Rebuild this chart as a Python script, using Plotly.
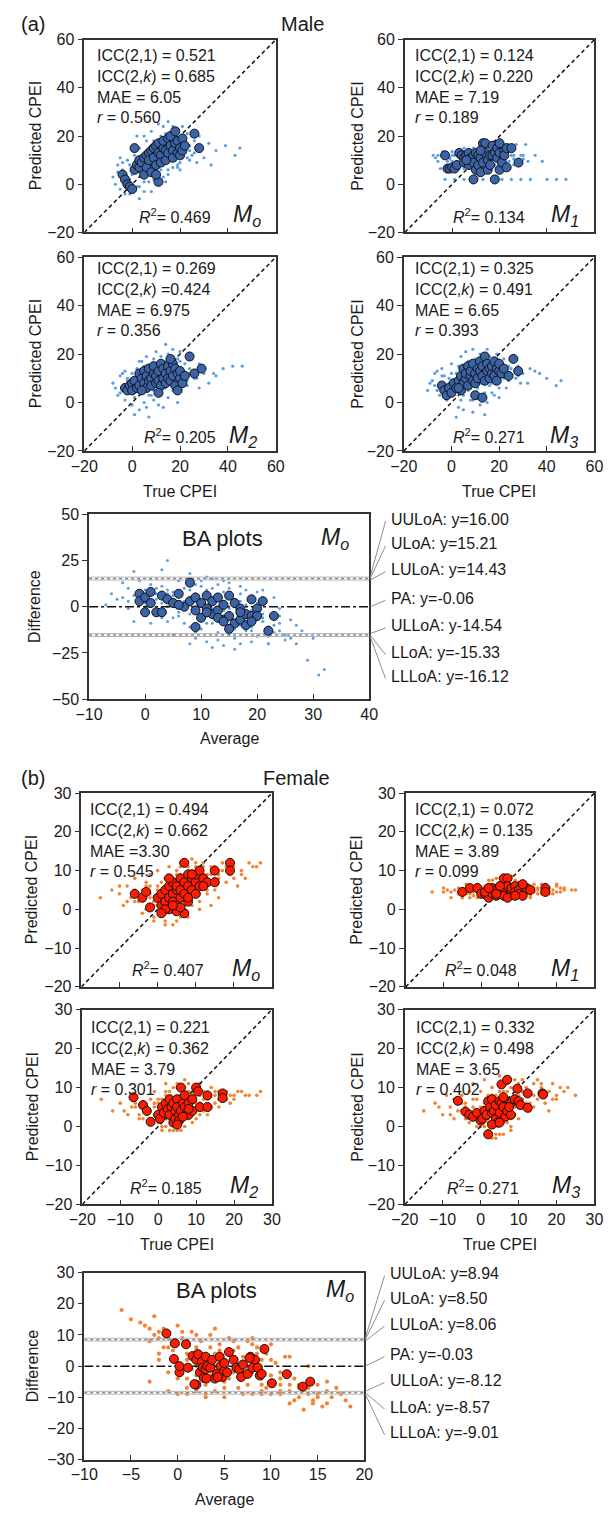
import plotly.graph_objects as go

W, H = 613, 1515
FONT = "Liberation Sans"
TXT = "#1a1a1a"

# ---------------- data ----------------
male_range = [-20, 60]
male_ticks = [-20, 0, 20, 40, 60]
female_range = [-20, 30]
female_ticks = [-20, -10, 0, 10, 20, 30]

male_ba_xrange = [-10, 40]
male_ba_xticks = [-10, 0, 10, 20, 30, 40]
male_ba_yrange = [-50, 50]
male_ba_yticks = [-50, -25, 0, 25, 50]
female_ba_xrange = [-10, 20]
female_ba_xticks = [-10, -5, 0, 5, 10, 15, 20]
female_ba_yrange = [-30, 30]
female_ba_yticks = [-30, -20, -10, 0, 10, 20, 30]

# Male Mo
male_mo_small_t = [-8, -6, -5, -4, -3, -2, -1, 0, 1, 2,
                   2, 3, 4, 4, 5, 5, 6, 6, 7, 7,
                   8, 8, 9, 9, 10, 10, 11, 11, 12, 12,
                   13, 13, 14, 14, 15, 15, 16, 16, 17, 17,
                   18, 18, 19, 19, 20, 20, 21, 22, 23, 24,
                   25, 26, 27, 28, 30, 32, 35, 39, 43, 45,
                   -7, -5, -3, -1, 1, 3, 5, 7, 9, 11,
                   13, 15, 17, 19, 21, 23, 25, 3, 8, 14,
                   0, 2, 6, 10, 12, 16, 20, 24, 28, 33,
                   -6, -4, -2, 0, 2, 4, 6, 8, 10, 12,
                   14, 16, 18, 20, 22, 24, 26, 5, 9, 13,
                   7, 11, 15, 19, 3, 1, -1, 17, 21, 9]
male_mo_small_p = [3, 8, -2, 6, 1, 10, -4, 4, 12, -1,
                   7, 15, 3, 9, 13, -3, 6, 18, 1, 11,
                   8, 22, 4, 14, 17, 0, 10, 25, 6, 19,
                   12, 3, 15, 21, 9, 26, 13, 18, 7, 16,
                   20, 11, 14, 23, 17, 9, 19, 13, 21, 16,
                   12, 18, 9, 15, 11, 17, 14, 16, 12, 15,
                   0, 11, -4, 8, -2, 5, 20, 14, 2, 7,
                   24, 4, 22, 8, 24, 11, 20, -6, -3, 1,
                   14, 20, 9, 12, 16, 11, 6, 10, 20, 8,
                   5, 9, 3, 7, 10, 12, 8, 16, 13, 20,
                   17, 15, 19, 12, 18, 14, 13, 1, 5, 10,
                   4, 3, 6, 7, -1, 9, 2, 24, 11, 18]
male_mo_big_t = [-4, -3, -2, -1, 0, 1, 1, 2, 3, 3,
                 4, 5, 5, 6, 6, 7, 7, 8, 8, 9,
                 9, 10, 10, 11, 11, 12, 12, 13, 13, 14,
                 14, 15, 15, 16, 16, 17, 17, 18, 18, 19,
                 19, 20, 20, 21, 21, 22, 26, 28, 11, 10]
male_mo_big_p = [4, 2, 0, -1, -2, 15, 6, 8, 7, 10,
                 9, 11, 4, 12, 7, 13, 10, 14, 5, 15,
                 11, 16, 8, 13, 17, 12, 9, 15, 18, 14,
                 10, 19, 13, 16, 20, 14, 11, 17, 22, 13,
                 18, 15, 12, 19, 14, 16, 21, 15, 1, 4]

# Male M1
male_m1_small_t = [-8, -6, -4, -2, 0, 2, 4, 6, 8, 10,
                   -5, -3, -1, 1, 3, 5, 7, 9, 11, 13,
                   0, 4, 8, 12, 16, 20, 24, 28, 32, 38,
                   -3, 1, 5, 9, 13, 17, 21, 25, 29, 33,
                   40, 44, 48, 15, 19, 23, 27, 31, 14, 18,
                   22, 26, 30, -7, -1, 3, 7, 11, 15, 19,
                   23, 2, 6, 10, 14, 18, 22, 26, -4, 0,
                   4, 8, 12, 16, 20, 24, 5, 9, 13, 17,
                   21, 12, 16, 20, 24, 6, 10, 14, 18, 22,
                   -6, -2, 2, 6, 10, 14, 18, 22, 26, 30,
                   1, 5, 9, 13, 17, 21, 25, 29, 35, -1]
male_m1_small_p = [12, 12, 12, 12, 12, 12, 12, 12, 12, 12,
                   6.5, 6.5, 6.5, 6.5, 6.5, 6.5, 6.5, 6.5, 6.5, 6.5,
                   9.5, 9.5, 9.5, 9.5, 9.5, 9.5, 9.5, 9.5, 9.5, 9.5,
                   2, 2, 2, 2, 2, 2, 2, 2, 2, 2,
                   2, 2, 2, 16.5, 16.5, 16.5, 16.5, 16.5, 12, 12,
                   12, 12, 12, 11, 11, 11, 11, 11, 11, 11,
                   11, 8, 8, 8, 8, 8, 8, 8, 13.5, 13.5,
                   13.5, 13.5, 13.5, 13.5, 13.5, 13.5, 15, 15, 15, 15,
                   15, 7, 7, 7, 7, 10.5, 10.5, 10.5, 10.5, 10.5,
                   9.5, 9.5, 13.5, 13.5, 11, 11, 8, 8, 10.5, 10.5,
                   12, 12, 12, 12, 12, 12, 12, 12, 12, 10.5]
male_m1_big_t = [-3, -2, -1, 0, 1, 2, 3, 4, 5, 5,
                 6, 7, 7, 8, 8, 9, 9, 10, 10, 11,
                 11, 12, 12, 13, 13, 14, 14, 15, 15, 16,
                 16, 17, 17, 18, 19, 19, 20, 20, 21, 22,
                 22, 23, 23, 25, 28, 9, 18, 6, 20, 12]
male_m1_big_p = [12, 6.5, 6.5, 7, 6.5, 8, 13, 12, 11, 9,
                 12, 13, 8, 10, 11, 12, 9, 13, 6, 8,
                 12, 11, 5, 17, 9, 17, 13, 10, 6, 12,
                 8, 16, 12, 13, 11, 15, 13, 6, 9, 14,
                 12, 15, 7, 15, 9, 2, 2, 10, 17, 14]

# Male M2
male_m2_small_t = [-8, -6, -5, -4, -3, -2, -1, 0, 1, 2,
                   2, 3, 4, 4, 5, 5, 6, 6, 7, 7,
                   8, 8, 9, 9, 10, 10, 11, 11, 12, 12,
                   13, 13, 14, 14, 15, 15, 16, 16, 17, 17,
                   18, 18, 19, 19, 20, 20, 21, 22, 23, 24,
                   25, 26, 27, 28, 30, 32, 35, 38, 42, 46,
                   1, 3, 5, 7, 9, 11, 13, 15, 17, 19,
                   -7, -3, 0, 4, 8, 12, 16, 20, 24, 28,
                   3, 7, 11, 15, 19, 23, 27, 0, 6, 14,
                   -5, -2, 1, 4, 7, 10, 13, 16, 19, 22,
                   2, 6, 9, 12, 15, 18, 21, 25, 29, 34,
                   -4, 0, 3, 8, 11, 14, 17, 20, 5, 9]
male_m2_small_p = [8, 3, 11, 6, 1, 9, 5, 12, 2, 7,
                   14, 4, 9, 17, 6, 12, -2, 15, 10, 3,
                   13, 7, 18, 5, 11, 21, 8, 15, 3, 12,
                   17, 9, 6, 14, 20, 11, 16, 8, 13, 22,
                   10, 15, 18, 7, 13, 17, 11, 16, 9, 14,
                   18, 10, 13, 16, 12, 8, 11, 14, 15, 15,
                   -5, -3, 0, -6, 1, 4, -2, 2, 5, 0,
                   6, 13, 10, 8, 16, 19, 10, 21, 12, 6,
                   10, 11, 12, 13, 9, 7, 10, 4, 19, 24,
                   4, 10, 6, 12, 8, 14, 6, 12, 15, 9,
                   11, 13, 16, 10, 8, 13, 14, 11, 13, 12,
                   12, -1, 17, 3, -1, 17, 19, 11, 15, 9]
male_m2_big_t = [-3, -2, -1, 0, 0, 1, 2, 3, 3, 4,
                 5, 5, 6, 6, 7, 7, 8, 8, 9, 9,
                 10, 10, 11, 11, 12, 12, 13, 13, 14, 14,
                 15, 15, 16, 16, 17, 17, 18, 18, 19, 19,
                 20, 20, 21, 22, 24, 26, 29, 11, 16, 4]
male_m2_big_p = [6, 5, 7, 8, 5, 9, 6, 7, 12, 10,
                 8, 13, 6, 11, 9, 14, 10, 7, 12, 15,
                 8, 11, 13, 9, 16, 7, 10, 14, 12, 8,
                 15, 10, 13, 9, 16, 11, 7, 14, 12, 5,
                 10, 13, 8, 11, 19, 12, 14, 4, 18, 5]

# Male M3
male_m3_small_t = [-10, -8, -7, -5, -4, -3, -2, -1, 0, 1,
                   2, 3, 4, 4, 5, 5, 6, 6, 7, 7,
                   8, 8, 9, 9, 10, 10, 11, 11, 12, 12,
                   13, 13, 14, 14, 15, 15, 16, 16, 17, 17,
                   18, 18, 19, 19, 20, 20, 21, 22, 23, 24,
                   25, 26, 27, 28, 30, 32, 35, 40, 44, 46,
                   -9, -6, -3, 0, 3, 6, 9, 12, 15, 18,
                   2, 5, 8, 11, 14, 17, 20, 23, 26, 29,
                   -6, -1, 3, 7, 11, 15, 19, 24, 28, 33,
                   -7, -4, -1, 2, 5, 8, 11, 14, 17, 20,
                   0, 3, 6, 9, 12, 15, 18, 21, 24, 27,
                   -2, 1, 4, 7, 10, 13, 16, 19, 22, 37]
male_m3_small_p = [5, 9, 12, 3, 14, 7, 1, 10, 16, 4,
                   12, -2, 8, 19, 3, 14, 10, 21, 5, 17,
                   9, 13, 22, 1, 11, 18, 6, 14, 20, 8,
                   12, 16, 4, 19, 10, 22, 14, 7, 17, 11,
                   15, 9, 20, 12, 6, 16, 11, 18, 13, 9,
                   14, 17, 10, 15, 12, 8, 13, 10, 7, 9,
                   8, 5, 11, 9, 6, 11, -4, -1, 0, 3,
                   -6, -3, 1, 2, -5, 4, 2, 6, 19, 8,
                   13, 6, 15, 12, 10, 13, 18, 15, 11, 14,
                   7, 11, 8, 9, 7, 6, 16, 14, 8, 14,
                   12, 10, 16, 14, 11, 17, 12, 15, 10, 12,
                   4, 7, 1, 9, 15, 8, 19, 17, 10, 12]
male_m3_big_t = [-4, -3, -2, -1, 0, 1, 2, 3, 4, 4,
                 5, 5, 6, 6, 7, 7, 8, 8, 9, 9,
                 10, 10, 11, 11, 12, 12, 13, 13, 14, 14,
                 15, 15, 16, 16, 17, 17, 18, 18, 19, 19,
                 20, 20, 21, 22, 24, 26, 28, 10, 13, 3]
male_m3_big_p = [7, 5, 3, 6, 4, 8, 6, 9, 11, 5,
                 14, 8, 10, 12, 7, 15, 11, 13, 9, 16,
                 12, 8, 14, 10, 17, 13, 11, 15, 9, 19,
                 13, 16, 10, 14, 12, 15, 11, 17, 9, 14,
                 13, 16, 12, 14, 11, 18, 13, 3, 2, 6]

# Male BA (average, difference)
male_ba_small_a = [-7, -6, -5, -4, -3, -3, -2, -2, -1, -1,
                   0, 0, 1, 1, 2, 2, 3, 3, 4, 4,
                   5, 5, 6, 6, 7, 7, 8, 8, 9, 9,
                   10, 10, 11, 11, 12, 12, 13, 13, 14, 14,
                   15, 15, 16, 16, 17, 17, 18, 18, 19, 19,
                   20, 20, 21, 21, 22, 22, 23, 23, 24, 24,
                   25, 26, 27, 28, 29, 30, 31, 32, 8, 12,
                   3, 6, 9, 11, 14, 17, 19, 22, 26, 5,
                   2, 4, 7, 10, 13, 16, 18, 21, 1, 8,
                   -2, 0, 3, 6, 9, 12, 15, 18, 21, 24,
                   11, 14, 17, 20, 23, 13, 16, 19, 10, 4,
                   -4, -1, 2, 5, 8, 11, 14, 17, 20, 23,
                   0, 3, 6, 9, 12, 15, 18, 21, 24, 27,
                   1, 4, 7, 10, 13, 16, 19, 22, 25, -3,
                   2, 5, 8, 11, 14, 17, 20, 9, 12, 15]
male_ba_small_d = [1, 7, 4, 13, -1, 10, 6, 19, 2, 14,
                   9, -4, 15, 3, 7, -3, 11, 20, 0, 25,
                   8, -6, 14, 2, -9, 10, 5, 18, -2, 12,
                   1, -12, 9, -5, 15, -1, 6, -14, 3, -8,
                   10, -3, -17, 4, -10, 7, -6, 1, -13, 5,
                   -2, -16, -8, 3, -11, -20, -4, -14, -1, -9,
                   -15, -7, -20, -13, -29, -17, -37, -34, -20, -22,
                   -6, -1, -17, -19, -21, -20, -19, -20, -17, -15,
                   4, -8, 3, -7, 12, 0, 9, -4, -9, -11,
                   -8, 0, 2, -5, 7, -9, 13, -13, 9, -5,
                   16, 14, 11, 8, 5, -18, -23, -2, 14, 9,
                   5, 8, 10, 6, 9, 4, -2, -3, -7, -10,
                   2, -1, -3, 0, -6, -1, -9, -6, -13, -10,
                   12, 7, 1, 11, -3, -12, -11, -16, -18, 3,
                   -2, 4, -4, -9, 8, 3, 2, -14, 10, -15]
male_ba_big_a = [-1, -1, 0, 0, 1, 1, 2, 3, 4, 5,
                 6, 7, 8, 8, 9, 9, 10, 10, 11, 11,
                 12, 12, 13, 13, 14, 14, 15, 15, 16, 16,
                 17, 17, 18, 18, 19, 19, 20, 20, 21, 22,
                 23, 9, 11, 13, 15, 3, 6, 14, 17, 19]
male_ba_big_d = [7, 3, 5, -3, 8, 2, -3, 6, 4, 2,
                 7, 0, 13, 3, -2, 5, -6, 2, 6, -1,
                 3, -4, 5, -2, 1, -7, 6, -5, 2, -9,
                 -1, -7, -4, -10, -5, 4, -1, -5, 3, -13,
                 -5, -11, -3, -6, -12, -3, 1, -8, -3, -8]

# Female Mo
female_mo_small_t = [-15, -12, -10, -9, -8, -7, -6, -5, -4, -3,
                     -3, -2, -2, -1, -1, 0, 0, 1, 1, 2,
                     2, 3, 3, 4, 4, 5, 5, 6, 6, 7,
                     7, 8, 8, 9, 9, 10, 10, 11, 11, 12,
                     12, 13, 13, 14, 14, 15, 15, 16, 17, 18,
                     19, 20, 21, 22, 23, 24, 25, 27, 16, 14,
                     -4, -1, 2, 5, 8, 11, 3, 6, 9, 4,
                     0, 2, 4, 6, 8, 10, 12, 14, 17, 20,
                     -6, -2, 1, 3, 5, 7, 9, 13, 15, 18,
                     -8, -5, -2, 1, 4, 7, 10, 13, 16, 19,
                     -10, -6, -3, 0, 3, 6, 9, 12, 15, 22,
                     2, 4, 6, 8, 1, 3, 5, 7, 9, 11,
                     -1, 0, 2, 4, 5, 6, 8, 10, 12, 26]
female_mo_small_p = [3, 5, 4, 1, 6, 3, 8, 2, 5, 7,
                     0, 4, 9, 2, -2, 6, 10, 1, 4, 8,
                     -3, 5, 11, 2, 7, -1, 9, 4, 12, 6,
                     1, 10, 3, 7, 13, 5, 11, 2, 8, 12,
                     6, 9, 4, 11, 7, 10, 5, 8, 12, 7,
                     9, 11, 6, 10, 8, 12, 11, 12, 3, 1,
                     -1, -3, -4, -3, -2, 0, 2, -2, 1, -4,
                     2, 3, 4, 5, 6, 7, 8, 9, 10, 8,
                     5, 6, 7, 8, 3, 3, 4, 5, 8, 11,
                     2, 4, 3, 2, 3, 5, 6, 7, 9, 9,
                     6, 2, 6, 5, 7, 9, 10, 9, 11, 9,
                     1, 0, 2, 4, 3, 4, 2, 1, 6, 4,
                     1, 1, 6, 5, 10, 11, 11, 12, 11, 11]
female_mo_big_t = [-6, -4, -3, -2, 0, 1, 1, 2, 2, 3,
                   3, 3, 4, 4, 4, 5, 5, 5, 6, 6,
                   6, 7, 7, 7, 8, 8, 8, 9, 9, 10,
                   10, 11, 11, 12, 13, 15, 15, 19, 19, 3,
                   7, 9, 5, 2, 6, 12, 8, 4, 1, 10]
female_mo_big_p = [4, 3, 4.5, 0.5, 3, 4, 1, 5, 2, 6,
                   3, 0, 7, 4, 2, 5, 1, 6, 3, 8,
                   5, -1, 4, 7, 6, 9, 2, 5, 8, 7,
                   9, 6, 10, 8, 7, 7, 10, 12, 10, 8,
                   12, 9, -0.5, 0, 0.5, 6, 3, 1, -1, 4]

# Female M1
female_m1_small_t = [-13, -10, -8, -6, -4, -2, 0, 2, 4, 6,
                     -8, -5, -3, -1, 1, 3, 5, 7, 9, 11,
                     -6, -3, 0, 3, 6, 9, 12, 15, 18, 21,
                     8, 10, 12, 14, 16, 18, 20, 22, 24, 25,
                     2, 3, 4, 5, 6, 7, 8, 9, 10, 11,
                     -4, -1, 2, 5, 8, 11, 14, 17, 20, 13,
                     0, 4, 8, 12, 16, 19, -2, 6, 10, 14,
                     1, 3, 5, 7, 9, 11, 13, 15, 17, 20,
                     -10, -7, -4, -1, 2, 5, 8, 11, 14, 17,
                     -6, -3, 0, 3, 6, 9, 12, 15, 18, 21,
                     -9, -2, 1, 4, 7, 10, 13, 16, 19, 22]
female_m1_small_p = [4.5, 4.5, 4.5, 4.5, 4.5, 4.5, 4.5, 4.5, 4.5, 4.5,
                     3, 3, 3, 3, 3, 3, 3, 3, 3, 3,
                     5.5, 5.5, 5.5, 5.5, 5.5, 5.5, 5.5, 5.5, 5.5, 5.5,
                     4.5, 4.5, 4.5, 4.5, 4.5, 4.5, 4.5, 5, 5, 5,
                     7.5, 7.5, 8, 8, 7.5, 8, 8.5, 7.5, 7, 7,
                     6.5, 6.5, 6.5, 6.5, 6.5, 6.5, 6.5, 6.5, 6.5, 3.5,
                     4, 4, 4, 4, 4, 4, 5, 5, 5, 5,
                     3.5, 3.5, 3.5, 3.5, 3.5, 3.5, 3, 4, 6, 6,
                     5.5, 5, 4, 5, 4.5, 4.5, 4, 5.5, 5.5, 4.5,
                     4, 4, 5.5, 5, 6, 6.5, 6, 5, 4, 4.5,
                     5, 3.5, 6, 3, 5, 3, 6, 6.5, 5, 5.5]
female_m1_big_t = [-5, -3, -1, 0, 1, 2, 2, 3, 3, 4,
                   4, 5, 5, 6, 6, 6, 7, 7, 8, 8,
                   9, 9, 10, 10, 11, 12, 13, 17, 17, 11,
                   7, 9, 4, 5, 1, 2]
female_m1_big_p = [4.5, 5.5, 5.5, 4, 4, 3, 5, 5.5, 4, 5,
                   3.5, 6, 4, 5, 8, 3.5, 8, 6, 4.5, 5.5,
                   6, 4.5, 5, 4, 3.5, 5.5, 5, 5.5, 4.5, 6.5,
                   3, 3.5, 4, 6, 4.5, 5.5]

# Female M2
female_m2_small_t = [-15, -12, -10, -8, -7, -6, -5, -4, -3, -2,
                     -2, -1, -1, 0, 0, 1, 1, 2, 2, 3,
                     3, 4, 4, 5, 5, 6, 6, 7, 7, 8,
                     8, 9, 9, 10, 10, 11, 11, 12, 12, 13,
                     14, 15, 15, 16, 17, 18, 19, 20, 22, 24,
                     26, 27, 1, 3, 5, 7, 9, 4, 6, 2,
                     -4, -1, 2, 5, 8, 11, 14, -6, 0, 3,
                     6, 9, 12, 16, 20, 23, 1, 4, 7, 10,
                     -9, -6, -3, 0, 3, 6, 9, 12, 15, 18,
                     -5, -2, 1, 4, 7, 10, 13, 16, 19, 21,
                     0, 2, 4, 6, 8, 3, 5, 7, 9, 11,
                     -1, 1, 3, 5, 7, 9, 2, 4, 6, 8]
female_m2_small_p = [7, 4, 6, 3, 5, 8, 2, 6, 4, 7,
                     1, 5, 9, 3, 7, 0, 4, 8, 11, 5,
                     2, 6, 10, -1, 4, 8, 1, 5, 12, 3,
                     7, 4, 9, 2, 6, 8, 11, 5, 9, 7,
                     10, 6, 9, 7, 8, 9, 6, 8, 9, 8,
                     8, 9, -1, -1, 0, 0, 1, -1, -1, 0,
                     2, 3, 9, 10, 11, 3, 5, 5, 5, 3,
                     2, 5, 4, 5, 7, 8, 2, 3, 9, 10,
                     4, 6, 5, 6, 6, 7, 6, 7, 8, 7,
                     3, 2, 5, 4, 3, 4, 3, 9, 8, 9,
                     1, 2, 1, 2, 2, 9, 11, 10, 8, 6,
                     6, 7, 4, 5, 6, 3, 4, 7, 5, 9]
female_m2_big_t = [-6.5, -4, -3, -2, 0, 0.5, 1, 1.5, 2, 2.5,
                   3, 3, 3.5, 4, 4, 4.5, 4.5, 5, 5, 5.5,
                   5.5, 6, 6, 6.5, 7, 7, 8, 8, 9, 9,
                   10, 10.5, 11, 13, 13, 17, 17, 5, 6.5, 8]
female_m2_big_p = [7.5, 5.5, 4, 1.2, 3, 2, 5, 3.5, 6, 4.5,
                   7, 3, 5, 6, 1, 4, 2, 7, 5, 3,
                   1.5, 10, 4, 6, 5, 8, 3, 6, 4, 7,
                   10, 9, 5, 8, 5, 8.5, 7.3, 0.5, 2.5, 4.5]

# Female M3
female_m3_small_t = [-15, -12, -10, -9, -8, -7, -6, -5, -4, -3,
                     -3, -2, -2, -1, -1, 0, 0, 1, 1, 2,
                     2, 3, 3, 4, 4, 5, 5, 6, 6, 7,
                     7, 8, 8, 9, 9, 10, 10, 11, 11, 12,
                     13, 13, 14, 15, 16, 17, 18, 19, 20, 22,
                     23, 25, 4, 6, 8, 3, 5, -1, 1, 7,
                     -6, -4, -2, 0, 2, 4, 6, 8, 10, 12,
                     14, 16, 18, 20, -8, -5, 2, 6, 10, 15,
                     -11, -7, -4, -1, 2, 5, 8, 11, 14, 17,
                     -5, -2, 1, 4, 7, 10, 13, 16, 19, 21,
                     0, 2, 4, 6, 8, 3, 5, 7, 9, 11,
                     -3, 1, 3, 5, 7, 9, 2, 4, 6, 8]
female_m3_small_p = [4, 6, 3, 8, 5, 2, 7, 4, 6, 9,
                     1, 5, 11, 3, 7, 0, 9, 4, 12, -1,
                     6, 3, 10, -2, 8, 5, 13, 1, 9, 4,
                     11, 6, -1, 8, 3, 10, 5, 7, 12, 6,
                     9, 4, 11, 7, 10, 6, 9, 11, 8, 9,
                     10, 8, -3, -2, 0, -3, -2, 0, 0, 1,
                     4, 2, 3, 5, 2, 6, 4, 3, 2, 10,
                     5, 8, 4, 7, 3, 6, 8, 11, 11, 12,
                     5, 7, 5, 2, 3, 4, 7, 9, 8, 9,
                     8, 7, 5, 3, 9, 8, 6, 11, 7, 10,
                     3, 1, 2, 3, 2, 8, 9, 7, 5, 9,
                     4, 6, 10, 11, 6, 12, 4, 6, 6, 10]
female_m3_big_t = [-6, -4, -3, -2, -1, 0, 0.5, 1, 1.5, 2,
                   2, 2.5, 3, 3, 3.5, 4, 4, 4.5, 5, 5,
                   5.5, 5.5, 6, 6, 6.5, 7, 7, 8, 8, 9,
                   9.7, 10, 10.5, 12.4, 12.4, 16.3, 16.5, 3, 5, 7.5]
female_m3_big_p = [6.6, 3.8, 3, 2.5, 3.5, 1.5, 2, 4, 3, -2,
                   6.5, 5, 3.5, 7, 4, 2, 5.5, 1, 6.5, 3.5,
                   10.8, 6, 5, 7.5, 2.5, 12, 4, 6, 3, 7,
                   9.7, 6.5, 5.5, 8.5, 4.8, 8.5, 8.2, 0.5, 1, 5]

# Female BA
female_ba_small_a = [-6, -4, -3.5, -3, -2.5, -2, -2, -1.5, -1, -1,
                     -0.5, 0, 0, 0.5, 1, 1, 1.5, 2, 2, 2.5,
                     3, 3, 3.5, 4, 4, 4.5, 5, 5, 5.5, 6,
                     6, 6.5, 7, 7, 7.5, 8, 8, 8.5, 9, 9,
                     9.5, 10, 10, 10.5, 11, 11.5, 12, 12, 12.5, 13,
                     13.5, 14, 14.5, 15, 15.5, 16, 16.5, 17, 18, 18.5,
                     -3, -1, 1, 3, 5, 7, 9, 11, 13, 15,
                     0, 2, 4, 6, 8, 10, 12, 14, 16, 3,
                     1, 3, 5, 7, 9, -2, 4, 6, 8, 11,
                     -5, -3, -2, -1, 0, 1, 2, 3, 4, 5,
                     6, 7, 8, 9, 10, 11, 12, 13, 14, 15,
                     0.5, 1.5, 2.5, 3.5, 4.5, 5.5, 6.5, 7.5, 8.5, 9.5,
                     1, 2, 3, 4, 5, 6, 7, 8, 9, 10,
                     -2.5, -1.5, 0.5, 2, 3.5, 11, 12.5, 14.5, 16, 17.5]
female_ba_small_d = [18, 14, 13, 8, 16, 11, 4, 12, -2, 9,
                     5, 13, -4, 9, 2, -7, 11, 6, -3, 8,
                     1, -6, 10, 4, -8, 7, 2, -5, 9, -2,
                     5, -7, 3, -4, 8, -1, -9, 6, 2, -6,
                     4, -3, -9, 1, -6, 3, -8, -12, -4, -10,
                     -14, -7, -11, -9, -13, -8, -10, -7, -11, -13,
                     -5, -8, -9, -10, -10, -9, -9, -8, -6, -6,
                     -9, -8, 12, 8, 9, 7, 3, 0, -5, 0,
                     -1, 3, -2, 1, -3, 2, 0, -1, 0, -2,
                     15, 12, 9, 6, 7, 4, 5, 2, 0, -3,
                     3, 0, -2, -4, -5, -4, -6, -7, -9, -10,
                     0, -1, 4, -3, 5, -4, 6, -6, 4, -7,
                     -4, 0, -9, 2, -7, 3, -2, 7, -8, 2,
                     10, 6, 11, 10, 6, -9, -11, -12, -12, -9]
female_ba_big_a = [-1.2, -0.3, -0.4, 0.9, 0.2, 0.2, 1.1, 1.6, 2, 2,
                   2.2, 2.4, 2.6, 2.7, 2.8, 3, 3, 3.2, 3.5, 3.7,
                   4, 4.2, 4.5, 4.6, 4.8, 5, 5, 5.3, 5.5, 6,
                   6.3, 6.6, 6.8, 7, 7.5, 7.8, 8, 8.3, 8.6, 8.8,
                   9, 9.3, 10.1, 11.7, 13.4, 14.2, 1.8, 7.7, 4.3, 3.1]
female_ba_big_d = [10.5, 7.3, 2.3, 7, -2, 0, -0.5, 3.2, -6, 2,
                   3.8, -2, 1.5, -0.5, -3.8, 3, -1, 0, -0.5, 2,
                   -4, -2.5, 3, 0, -3.5, -1.5, 1, -2, 4.5, 2,
                   -0.5, -1, -3.5, 0.5, -2.5, 3, -0.5, 2, -0.5, -3,
                   -2.5, 5.5, -5.5, -2.6, -6.6, -5, -5.8, 2.6, -3.5, -4]

# Statistics text
male_stats = [
    ("0.521", "0.685", "MAE = 6.05", "0.560", "0.469", "o"),
    ("0.124", "0.220", "MAE = 7.19", "0.189", "0.134", "1"),
    ("0.269", "0.424", "MAE = 6.975", "0.356", "0.205", "2"),
    ("0.325", "0.491", "MAE = 6.65", "0.393", "0.271", "3"),
]
female_stats = [
    ("0.494", "0.662", "MAE =3.30", "0.545", "0.407", "o"),
    ("0.072", "0.135", "MAE = 3.89", "0.099", "0.048", "1"),
    ("0.221", "0.362", "MAE = 3.79", "0.301", "0.185", "2"),
    ("0.332", "0.498", "MAE = 3.65", "0.402", "0.271", "3"),
]

male_loa_values = [16.00, 15.21, 14.43, -0.06, -14.54, -15.33, -16.12]
male_loa_labels = ["UULoA: y=16.00", "ULoA: y=15.21", "LULoA: y=14.43", "PA: y=-0.06",
                   "ULLoA: y-14.54", "LLoA: y=-15.33", "LLLoA: y=-16.12"]
female_loa_values = [8.94, 8.50, 8.06, -0.03, -8.12, -8.57, -9.01]
female_loa_labels = ["UULoA: y=8.94", "ULoA: y=8.50", "LULoA: y=8.06", "PA: y=-0.03",
                     "ULLoA: y=-8.12", "LLoA: y=-8.57", "LLLoA: y=-9.01"]

# ---------------- style / layout ----------------
MALE_SMALL = "#5B9FE3"
MALE_BIG = "#3A63A8"
FEMALE_SMALL = "#F28535"
FEMALE_BIG = "#FF1A00"


def px(x):
    return x / W


def py(y):
    return 1 - y / H


fig = go.Figure()
annotations = []
shapes = []


def axname(i):
    return ("x", "y") if i == 1 else (f"x{i}", f"y{i}")


def add_axes(i, box, xr, xt, yr, yt, show_xlabels):
    l, r, t, b = box
    common = dict(showline=True, linecolor="#333333", linewidth=1.5, mirror=True,
                  showgrid=False, zeroline=False, ticklen=5, tickwidth=1.3,
                  tickcolor="#333333", fixedrange=True,
                  tickfont=dict(family=FONT, size=16, color=TXT))
    xa, ya = axname(i)
    fig.update_layout(**{
        ("xaxis" if i == 1 else f"xaxis{i}"): dict(
            domain=[px(l), px(r)], range=xr, tickvals=xt, ticks="inside",
            anchor=ya, showticklabels=show_xlabels, **common),
        ("yaxis" if i == 1 else f"yaxis{i}"): dict(
            domain=[py(b), py(t)], range=yr, tickvals=yt, ticks="outside",
            anchor=xa, **common),
    })


def txt(x, y, text, size=16, xanchor="center", yanchor="middle", angle=0, align="center"):
    annotations.append(dict(x=px(x), y=py(y), xref="paper", yref="paper", text=text,
                            showarrow=False, xanchor=xanchor, yanchor=yanchor, align=align,
                            textangle=angle, font=dict(family=FONT, size=size, color=TXT)))


def add_points(i, xs, ys, small, color, size):
    xa, ya = axname(i)
    if small:
        marker = dict(size=size, color=color)
    else:
        marker = dict(size=size, color=color, line=dict(color="#111111", width=1))
    fig.add_trace(go.Scatter(x=xs, y=ys, mode="markers", xaxis=xa, yaxis=ya,
                             marker=marker, hoverinfo="skip"))


scatter_specs = [
    (1, (73, 272, 32, 227), male_range, male_ticks, male_mo_small_t, male_mo_small_p,
     male_mo_big_t, male_mo_big_p, (MALE_SMALL, MALE_BIG, 3.2), False, male_stats[0], " = ",
     (84, 37), (167, 210), (242, 210), 22),
    (2, (406, 603, 32, 227), male_range, male_ticks, male_m1_small_t, male_m1_small_p,
     male_m1_big_t, male_m1_big_p, (MALE_SMALL, MALE_BIG, 3.2), False, male_stats[1], " = ",
     (415, 37), (493, 210), (572, 210), 356),
    (3, (73, 272, 252, 448), male_range, male_ticks, male_m2_small_t, male_m2_small_p,
     male_m2_big_t, male_m2_big_p, (MALE_SMALL, MALE_BIG, 3.2), True, male_stats[2], " =",
     (84, 253), (172, 433), (238, 433), 22),
    (4, (405, 603, 252, 448), male_range, male_ticks, male_m3_small_t, male_m3_small_p,
     male_m3_big_t, male_m3_big_p, (MALE_SMALL, MALE_BIG, 3.2), True, male_stats[3], " = ",
     (415, 253), (494, 433), (571, 433), 356),
    (6, (70, 268, 794, 990), female_range, female_ticks, female_mo_small_t, female_mo_small_p,
     female_mo_big_t, female_mo_big_p, (FEMALE_SMALL, FEMALE_BIG, 3.6), False, female_stats[0],
     " = ", (77, 800), (160, 972), (241, 972), 19),
    (7, (407, 603, 794, 990), female_range, female_ticks, female_m1_small_t, female_m1_small_p,
     female_m1_big_t, female_m1_big_p, (FEMALE_SMALL, FEMALE_BIG, 3.6), False, female_stats[1],
     " = ", (415, 800), (485, 972), (572, 972), 356),
    (8, (71, 268, 1013, 1210), female_range, female_ticks, female_m2_small_t, female_m2_small_p,
     female_m2_big_t, female_m2_big_p, (FEMALE_SMALL, FEMALE_BIG, 3.6), True, female_stats[2],
     " = ", (78, 1020), (158, 1192), (239, 1192), 19),
    (9, (406, 603, 1013, 1210), female_range, female_ticks, female_m3_small_t, female_m3_small_p,
     female_m3_big_t, female_m3_big_p, (FEMALE_SMALL, FEMALE_BIG, 3.6), True, female_stats[3],
     " = ", (416, 1020), (487, 1192), (573, 1192), 356),
]

for (i, box, rng, ticks, st, sp, bt, bp, cols, xlab, stats, sep,
     tpos, r2pos, mpos, ytitle_x) in scatter_specs:
    add_axes(i, box, rng, ticks, rng, ticks, xlab)
    xa, ya = axname(i)
    add_points(i, st, sp, True, cols[0], cols[2])
    fig.add_trace(go.Scatter(x=rng, y=rng, mode="lines", xaxis=xa, yaxis=ya,
                             line=dict(color="#111111", width=1.5, dash="4px,3px"),
                             hoverinfo="skip"))
    add_points(i, bt, bp, False, cols[1], 9)
    icc1, icck, mae, r, r2, sub = stats
    block = (f"ICC(2,1) = {icc1}<br>ICC(2,<i>k</i>){sep}{icck}<br>{mae}<br>"
             f"<i>r</i> = {r}")
    txt(tpos[0], tpos[1], block, 16, xanchor="left", yanchor="top", align="left")
    txt(r2pos[0], r2pos[1], f"<i>R</i><sup>2</sup>= {r2}", 16)
    txt(mpos[0], mpos[1], f"<i>M<sub>{sub}</sub></i>", 23)
    l, r_, t, b = box
    txt(ytitle_x, (t + b) / 2, "Predicted CPEI", 16, angle=-90)
    if xlab:
        txt((l + r_) / 2, b + 41, "True CPEI", 16)

# BA plots
ba_specs = [
    (5, (78, 369, 512, 699), male_ba_xrange, male_ba_xticks, male_ba_yrange, male_ba_yticks,
     male_ba_small_a, male_ba_small_d, male_ba_big_a, male_ba_big_d, (MALE_SMALL, MALE_BIG, 3.0),
     male_loa_values, male_loa_labels, [517, 542, 568, 597, 625, 652, 676], 390,
     (217, 537), (334, 537), 22),
    (10, (73, 364, 1279, 1468), female_ba_xrange, female_ba_xticks, female_ba_yrange,
     female_ba_yticks, female_ba_small_a, female_ba_small_d, female_ba_big_a, female_ba_big_d,
     (FEMALE_SMALL, FEMALE_BIG, 4.2), female_loa_values, female_loa_labels,
     [1280, 1305, 1331, 1362, 1388, 1415, 1441], 389, (210, 1297), (339, 1297), 19),
]

for (i, box, xr, xt, yr, yt, sa, sd, ba, bd, cols, loa, labels, label_y, label_x,
     title_pos, m_pos, ytitle_x) in ba_specs:
    add_axes(i, box, xr, xt, yr, yt, True)
    xa, ya = axname(i)
    add_points(i, sa, sd, True, cols[0], cols[2])
    for k, v in enumerate(loa):
        if k == 3:
            line = dict(color="#111111", width=1.6, dash="dashdot")
        elif k in (1, 5):
            line = dict(color="#8a8a8a", width=1.6, dash="dot")
        else:
            line = dict(color="#b5b5b5", width=1)
        fig.add_trace(go.Scatter(x=xr, y=[v, v], mode="lines", xaxis=xa, yaxis=ya,
                                 line=line, hoverinfo="skip"))
    add_points(i, ba, bd, False, cols[1], 9)
    l, r_, t, b = box
    for v, lab, ly in zip(loa, labels, label_y):
        vy = b - (v - yr[0]) / (yr[1] - yr[0]) * (b - t)
        shapes.append(dict(type="line", xref="paper", yref="paper",
                           x0=px(r_ + 1), y0=py(vy), x1=px(label_x - 4), y1=py(ly + 2),
                           line=dict(color="#808080", width=0.9)))
        txt(label_x, ly, lab, 16, xanchor="left")
    txt(title_pos[0], title_pos[1], "BA plots", 22)
    txt(m_pos[0], m_pos[1], "<i>M<sub>o</sub></i>", 23)
    txt(ytitle_x, (t + b) / 2, "Difference", 16, angle=-90)
    txt((l + r_) / 2, b + 40, "Average", 16)

# Panel headings
txt(20, 16, "(a)", 20)
txt(300, 16, "Male", 20)
txt(20, 779, "(b)", 20)
txt(294, 779, "Female", 20)

fig.update_layout(width=W, height=H, margin=dict(l=0, r=0, t=0, b=0),
                  paper_bgcolor="white", plot_bgcolor="white", showlegend=False,
                  annotations=annotations, shapes=shapes,
                  font=dict(family=FONT, color=TXT))

fig.write_html("out.html", config={"displayModeBar": False},
               post_script="document.body.style.margin='0';document.body.style.padding='0';")
